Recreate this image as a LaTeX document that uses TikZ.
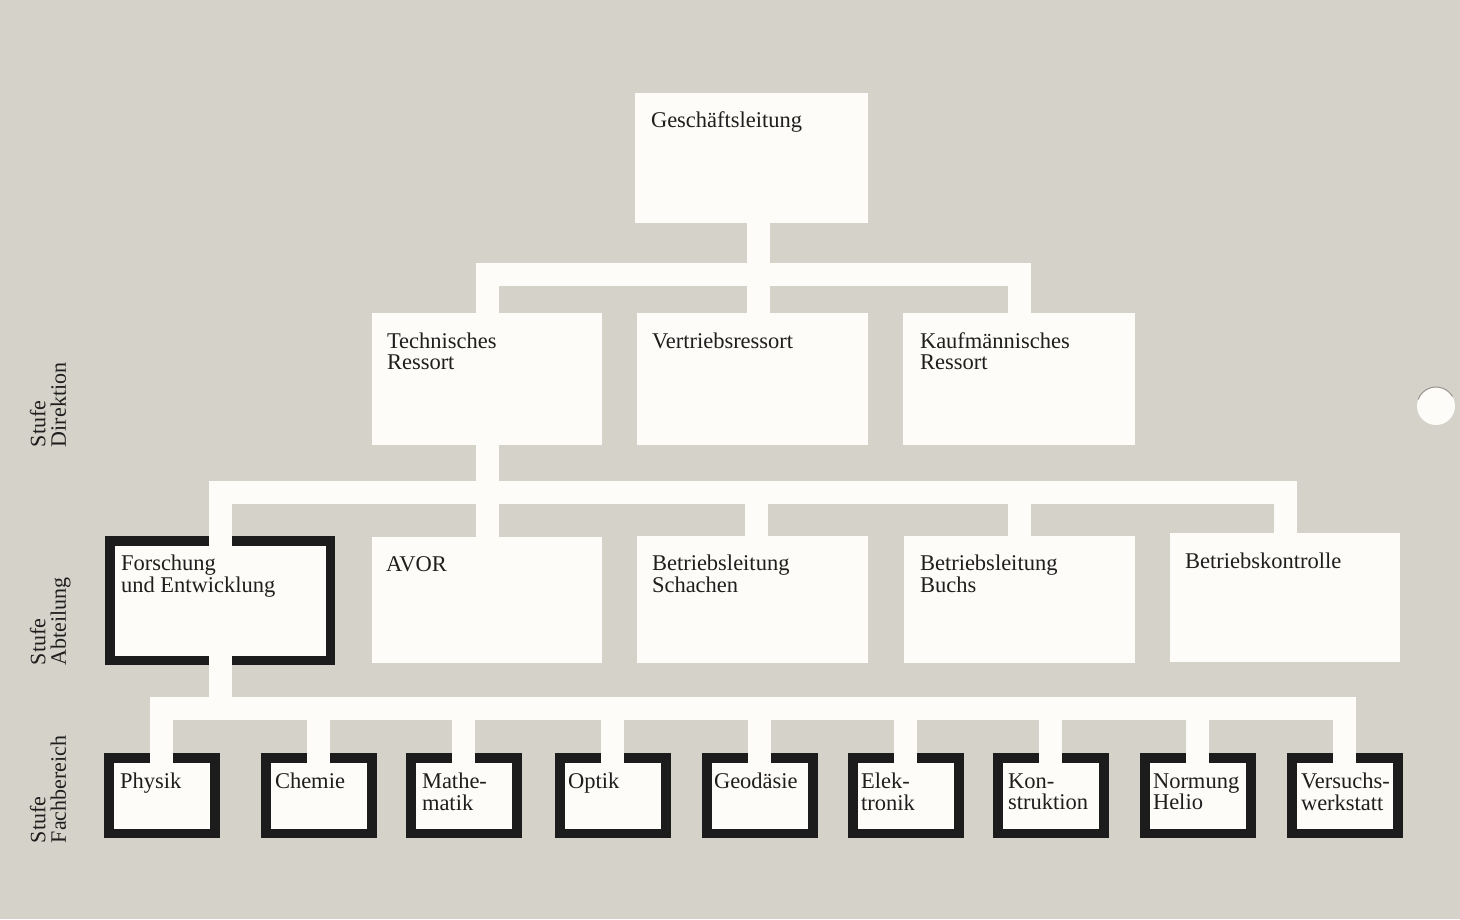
\documentclass[tikz,border=0pt]{standalone}
\usepackage{fontspec}
\setmainfont{Liberation Serif}
\definecolor{paper}{HTML}{D5D2C9}
\definecolor{boxwhite}{HTML}{FDFCF8}
\definecolor{ink}{HTML}{1C1C1C}
\definecolor{txtc}{HTML}{1E1E1E}
\begin{document}
\begin{tikzpicture}[x=1pt,y=-1pt,
  pbox/.style={fill=boxwhite,draw=none,inner sep=0pt,outer sep=0pt,anchor=north west},
  bbox/.style={fill=boxwhite,draw=ink,line width=9.5pt,inner sep=0pt,outer sep=4.75pt,anchor=north west},
  conn/.style={draw=boxwhite,line width=23pt,line cap=rect},
  txt/.style={font=\fontsize{22.5}{21.5}\selectfont,text=txtc,inner sep=0pt,outer sep=0pt,align=left,anchor=north west},
  side/.style={font=\fontsize{22}{20.5}\selectfont,text=txtc,inner sep=0pt,outer sep=0pt,align=left,rotate=90,anchor=north west}
]
\useasboundingbox (0,0) rectangle (1460,919);
\fill[paper] (0,0) rectangle (1460,919);
% punch hole
\fill[boxwhite] (1436,406) circle[radius=19];
\draw[paper!70!black,line width=1pt] (1436,406) ++(200:19) arc[start angle=200,end angle=330,radius=19];

% ---- boxes
\node[pbox,minimum width=233pt,minimum height=130pt] (G) at (635,93) {};
\node[pbox,minimum width=230pt,minimum height=132pt] (T) at (372,313) {};
\node[pbox,minimum width=231pt,minimum height=132pt] (V) at (637,313) {};
\node[pbox,minimum width=232pt,minimum height=132pt] (K) at (903,313) {};

\node[bbox,minimum width=220.5pt,minimum height=119.5pt] (F) at (105,536) {};
\node[pbox,minimum width=230pt,minimum height=126pt] (A) at (372,537) {};
\node[pbox,minimum width=231pt,minimum height=127pt] (S) at (637,536) {};
\node[pbox,minimum width=231pt,minimum height=127pt] (U) at (904,536) {};
\node[pbox,minimum width=230pt,minimum height=129pt] (R) at (1170,533) {};

\foreach \n/\xx in {1/104,2/261,3/406,4/555,5/702,6/848,7/993,8/1140,9/1287}{
  \node[bbox,minimum width=106pt,minimum height=75.5pt] (P\n) at (\xx,753) {};
}

% ---- bar levels
\coordinate (b1) at (0,274.5);
\coordinate (b2) at (0,492.5);
\coordinate (b3) at (0,708);
\coordinate (gdrop) at ([xshift=7pt]G.south);
\coordinate (vdrop) at ([xshift=6pt]V.north);
\coordinate (sdrop) at ([xshift=4pt]S.north);

% ---- connectors level 1
\draw[conn] (gdrop) -- (gdrop |- b1);
\draw[conn] (T.north |- b1) -- (K.north |- b1);
\draw[conn] (T.north |- b1) -- (T.north);
\draw[conn] (vdrop |- b1) -- (vdrop);
\draw[conn] (K.north |- b1) -- (K.north);

% ---- connectors level 2
\draw[conn] (T.south) -- (A.north);
\draw[conn] (F.north |- b2) -- (R.north |- b2);
\draw[conn] (F.north |- b2) -- (F.north);
\draw[conn] (sdrop |- b2) -- (sdrop);
\draw[conn] (U.north |- b2) -- (U.north);
\draw[conn] (R.north |- b2) -- (R.north);

% ---- connectors level 3
\draw[conn] (F.south) -- (F.south |- b3);
\draw[conn] (P1.north |- b3) -- (P9.north |- b3);
\foreach \n in {1,...,9}{
  \draw[conn] (P\n.north |- b3) -- (P\n.north);
}

% ---- texts
\node[txt] (tG) at ([shift={(16,19)}]G.north west) {Geschäftsleitung};
\node[txt] (tT) at ([shift={(15,19.5)}]T.north west) {Technisches\\Ressort};
\node[txt] (tV) at ([shift={(15,19.5)}]V.north west) {Vertriebsressort};
\node[txt] (tK) at ([shift={(17,19.5)}]K.north west) {Kaufmännisches\\Ressort};

\node[txt] (tF) at ([shift={(16,19.3)}]F.north west) {Forschung\\und Entwicklung};
\node[txt] (tA) at ([shift={(14,19.5)}]A.north west) {AVOR};
\node[txt] (tS) at ([shift={(15,19.3)}]S.north west) {Betriebsleitung\\Schachen};
\node[txt] (tU) at ([shift={(16,19.3)}]U.north west) {Betriebsleitung\\Buchs};
\node[txt] (tR) at ([shift={(15,20)}]R.north west) {Betriebskontrolle};

\node[txt] (t1) at ([shift={(16,20.3)}]P1.north west) {Physik};
\node[txt] (t2) at ([shift={(14,20.3)}]P2.north west) {Chemie};
\node[txt] (t3) at ([shift={(16,20.3)}]P3.north west) {Mathe-\\matik};
\node[txt] (t4) at ([shift={(13,20.3)}]P4.north west) {Optik};
\node[txt] (t5) at ([shift={(12,20.3)}]P5.north west) {Geodäsie};
\node[txt] (t6) at ([shift={(13,20.3)}]P6.north west) {Elek-\\tronik};
\node[txt] (t7) at ([shift={(15,20.3)}]P7.north west) {Kon-\\struktion};
\node[txt] (t8) at ([shift={(13,20.3)}]P8.north west) {Normung\\Helio};
\node[txt] (t9) at ([shift={(14,20.3)}]P9.north west) {Versuchs-\\werkstatt};

% ---- side labels
\node[side] (sD) at (30,447) {Stufe\\Direktion};
\node[side] (sA) at (30,665) {Stufe\\Abteilung};
\node[side] (sF) at (30,843) {Stufe\\Fachbereich};
\end{tikzpicture}
\end{document}
